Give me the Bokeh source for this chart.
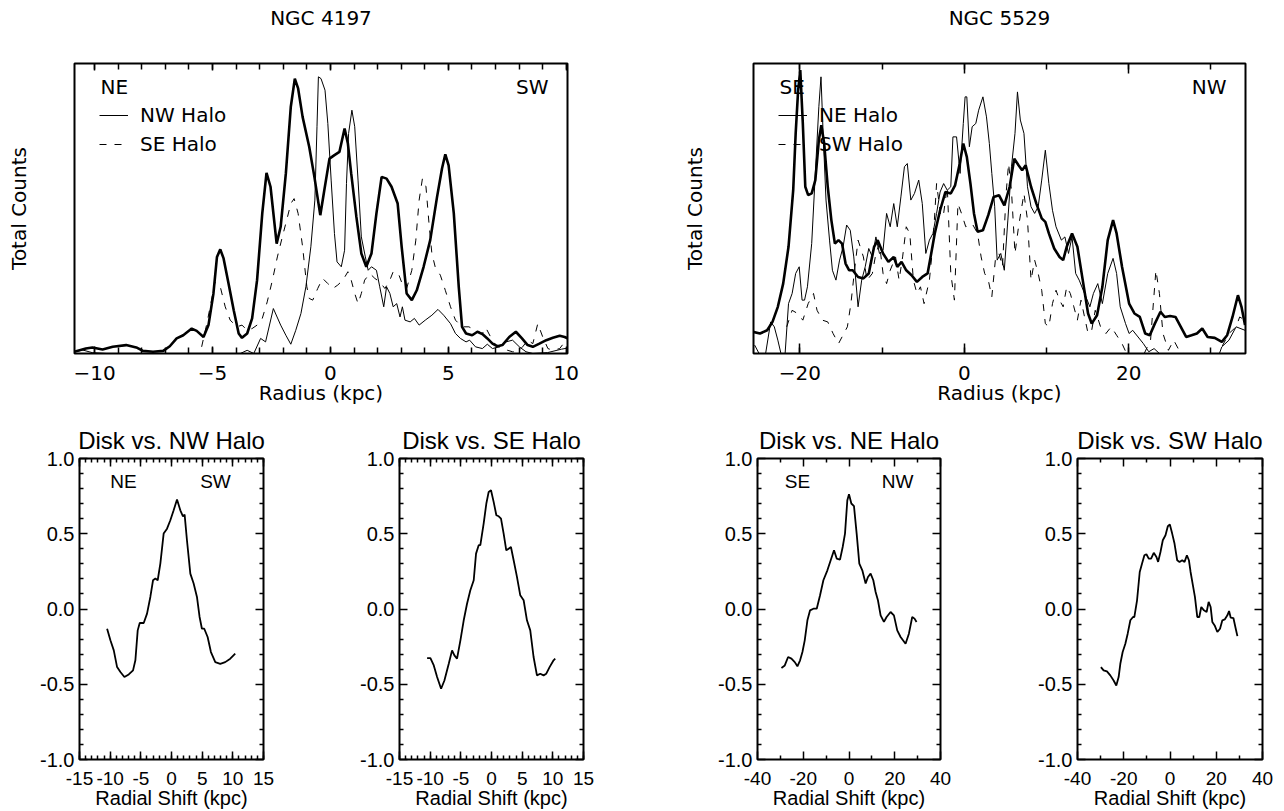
from bokeh.plotting import figure
from bokeh.models import (Range1d, LinearAxis, FixedTicker, Label, Legend, LegendItem,
                          CustomJSTickFormatter, AllLabels)
from bokeh.layouts import row, column
from bokeh.embed import file_html
from bokeh.resources import INLINE

# ---------------- data: NGC 4197 radial profiles (counts, arbitrary units) ----------------
N4197_R_DISK = [-10.87, -10.37, -10.09, -9.66, -9.23, -8.66, -8.23, -7.95, -7.52, -7.09,
                -6.81, -6.52, -6.24, -5.88, -5.67, -5.38, -5.17, -4.96, -4.81, -4.67,
                -4.53, -4.32, -4.10, -3.89, -3.75, -3.53, -3.32, -3.11, -2.89, -2.71,
                -2.54, -2.28, -2.11, -1.89, -1.68, -1.51, -1.37, -1.18, -0.90, -0.68,
                -0.43, -0.26, -0.04, 0.17, 0.38, 0.60, 0.74, 0.88, 1.10, 1.31,
                1.52, 1.74, 1.95, 2.17, 2.38, 2.59, 2.85, 3.02, 3.23, 3.45,
                3.66, 3.95, 4.23, 4.52, 4.73, 4.87, 5.01, 5.23, 5.44, 5.58,
                5.75, 6.01, 6.23, 6.44, 6.65, 6.87, 7.08, 7.29, 7.58, 7.86,
                8.12, 8.36, 8.58, 8.86, 9.15, 9.43, 9.72, 9.93, 10.14]
N4197_C_DISK = [0.6, 1.7, 2.1, 1.4, 2.3, 2.9, 2.1, 0.9, 0.6, 0.9,
                2.5, 5.2, 6.3, 8.6, 7.8, 5.7, 9.8, 20.7, 33.3, 35.9,
                32.8, 24.1, 14.9, 6.9, 5.4, 6.9, 12.1, 25.3, 48.3, 62.3,
                57.5, 37.9, 43.7, 62.1, 85.1, 94.8, 91.4, 81.6, 71.3, 60.9,
                47.7, 56.3, 67.2, 68.4, 69.5, 77.6, 72.4, 62.1, 47.1, 34.5,
                29.9, 34.5, 48.3, 60.9, 60.3, 57.5, 51.7, 36.8, 20.7, 18.4,
                21.8, 29.9, 39.1, 54.0, 63.8, 68.7, 64.9, 48.3, 23.0, 9.2,
                6.9, 6.3, 7.5, 6.7, 5.2, 3.4, 2.5, 2.9, 5.7, 7.5,
                5.2, 2.9, 2.3, 3.4, 4.6, 5.4, 6.1, 5.7, 4.9]

N4197_R_NW = [-10.87, -10.50, -10.10, -9.50, -4.20, -3.82, -3.53, -3.25, -2.96, -2.75,
              -2.42, -2.11, -1.89, -1.68, -1.47, -1.25, -1.04, -0.83, -0.66, -0.57,
              -0.51, -0.40, -0.23, -0.11, 0.03, 0.17, 0.28, 0.46, 0.60, 0.68,
              0.77, 0.91, 1.03, 1.17, 1.31, 1.48, 1.60, 1.74, 1.95, 2.09,
              2.26, 2.38, 2.52, 2.66, 2.81, 2.95, 3.05, 3.16, 3.38, 3.56,
              3.76, 4.02, 4.30, 4.56, 4.80, 5.09, 5.30, 5.51, 5.75, 5.90,
              6.15, 6.44, 6.65, 6.87, 7.15, 7.44, 7.72, 8.01, 8.29, 8.58,
              9.20, 9.80, 10.14]
N4197_C_NW = [0.5, 1.2, 0.3, 0.0, 0.0, 0.0, 1.1, 0.0, 5.2, 4.0,
              15.5, 9.8, 6.3, 3.2, 8.0, 13.8, 23.0, 36.8, 52.9, 78.2,
              95.4, 94.8, 90.8, 79.3, 59.8, 41.4, 31.6, 29.9, 35.6, 58.6,
              75.9, 83.9, 78.2, 59.8, 40.2, 33.3, 28.7, 29.9, 28.7, 23.0,
              16.1, 23.0, 20.7, 16.1, 17.2, 12.6, 16.1, 11.5, 10.9, 12.1,
              9.8, 11.5, 13.2, 15.2, 13.2, 10.3, 6.9, 5.2, 4.0, 4.6,
              2.3, 1.7, 3.2, 1.7, 2.3, 4.0, 4.6, 2.3, 0.6, 0.0,
              0.3, 1.5, 2.0]

N4197_R_SE = [-5.46, -5.24, -4.89, -4.67, -4.46, -4.25, -3.96, -3.75, -3.53, -3.32,
              -3.11, -2.89, -2.68, -2.46, -2.25, -2.04, -1.82, -1.68, -1.54, -1.37,
              -1.18, -1.00, -0.90, -0.75, -0.54, -0.33, -0.11, 0.10, 0.31, 0.53,
              0.74, 0.88, 1.03, 1.17, 1.31, 1.45, 1.67, 1.88, 2.09, 2.31,
              2.52, 2.66, 2.88, 3.09, 3.23, 3.45, 3.62, 3.76, 3.90, 4.05,
              4.19, 4.30, 4.44, 4.66, 4.87, 5.09, 5.30, 5.58, 5.87, 6.15,
              6.44, 6.58, 6.79, 7.01, 7.26, 7.51, 7.72, 7.93, 8.15, 8.36,
              8.58, 8.79, 9.00, 9.22, 9.43, 9.72, 9.93, 10.14]
N4197_C_SE = [2.3, 10.3, 24.7, 23.0, 16.1, 11.5, 9.2, 9.8, 8.0, 8.6,
              9.8, 12.1, 17.8, 25.3, 33.3, 40.2, 47.1, 51.7, 53.4, 48.3,
              36.8, 23.0, 19.0, 18.4, 22.4, 25.9, 24.1, 22.4, 23.6, 25.3,
              28.2, 25.3, 20.7, 17.2, 20.7, 25.3, 27.6, 25.9, 24.7, 22.4,
              25.3, 28.2, 27.6, 23.0, 22.4, 28.7, 39.1, 52.9, 60.3, 57.5,
              43.7, 34.5, 29.9, 27.0, 21.8, 16.1, 11.5, 9.2, 9.2, 8.0,
              6.9, 9.0, 5.7, 2.9, 1.7, 1.1, 0.6, 0.6, 2.3, 4.6,
              3.4, 10.3, 5.7, 1.7, 1.1, 1.7, 4.0, 4.6]

# ---------------- data: NGC 5529 radial profiles ----------------
N5529_R_DISK = [-25.73, -24.86, -23.99, -23.34, -22.69, -22.04, -21.39, -20.82, -20.52, -20.22,
                -19.96, -19.65, -19.35, -19.00, -18.57, -18.13, -17.70, -17.40, -17.05, -16.62,
                -16.18, -15.75, -15.31, -14.88, -14.45, -14.01, -13.58, -12.93, -12.28, -11.63,
                -10.98, -10.54, -9.89, -9.24, -8.59, -8.16, -7.64, -7.07, -6.42, -5.77,
                -5.12, -4.47, -4.03, -3.60, -2.95, -2.30, -1.65, -1.13, -0.56, -0.13,
                0.30, 0.74, 1.17, 1.61, 2.26, 2.91, 3.56, 4.21, 4.86, 5.51,
                6.07, 6.59, 7.03, 7.46, 8.11, 8.76, 9.41, 9.85, 10.28, 10.93,
                11.58, 12.02, 12.45, 13.10, 13.75, 14.40, 15.05, 15.49, 16.14, 16.79,
                17.44, 18.09, 18.52, 19.18, 20.04, 20.69, 21.34, 22.00, 22.56, 23.17,
                23.86, 24.38, 25.03, 25.68, 26.33, 26.98, 27.64, 28.29, 28.94, 29.59,
                30.46, 31.32, 31.97, 32.62, 33.28, 33.71, 34.14]
N5529_C_DISK = [7.5, 6.9, 8.0, 10.9, 16.1, 24.1, 36.8, 56.3, 75.9, 90.8,
                97.7, 79.3, 57.5, 54.6, 55.2, 59.8, 73.6, 78.7, 72.4, 57.5,
                46.0, 37.9, 39.1, 37.9, 31.0, 28.7, 28.7, 26.4, 25.9, 27.6,
                36.8, 39.1, 34.5, 31.6, 33.3, 29.9, 31.6, 28.7, 27.0, 24.7,
                26.4, 27.6, 34.5, 41.4, 49.4, 55.7, 55.2, 58.0, 65.5, 72.4,
                67.8, 58.6, 48.3, 42.0, 42.5, 47.7, 54.0, 54.6, 51.1, 57.5,
                67.2, 64.9, 63.2, 64.9, 57.5, 51.7, 46.6, 45.4, 41.4, 36.2,
                33.3, 32.2, 36.8, 41.4, 36.8, 25.3, 13.8, 10.3, 13.2, 23.0,
                39.1, 46.0, 41.4, 29.9, 17.2, 13.8, 12.6, 6.9, 6.3, 10.3,
                14.4, 12.6, 12.9, 12.6, 9.2, 5.7, 6.3, 6.9, 8.6, 5.7,
                5.4, 4.0, 6.3, 12.6, 20.1, 16.1, 9.8]

N5529_R_NE = [-25.51, -24.86, -24.21, -23.56, -23.12, -22.69, -22.26, -21.82, -21.39, -20.95,
              -20.52, -20.09, -19.74, -19.44, -19.09, -18.57, -18.13, -17.70, -17.44, -17.18,
              -16.83, -16.40, -16.05, -15.62, -15.18, -14.75, -14.32, -13.88, -13.45, -12.93,
              -12.49, -12.06, -11.63, -11.19, -10.76, -10.33, -9.89, -9.46, -9.02, -8.59,
              -8.16, -7.72, -7.29, -6.94, -6.51, -6.07, -5.55, -5.12, -4.69, -4.25,
              -3.82, -3.38, -2.95, -2.52, -2.08, -1.65, -1.39, -0.95, -0.52, -0.13,
              0.09, 0.30, 0.61, 0.95, 1.39, 1.74, 2.26, 2.69, 3.04, 3.34,
              3.69, 3.99, 4.43, 4.86, 5.29, 5.73, 6.16, 6.46, 6.81, 7.25,
              7.68, 8.11, 8.55, 8.98, 9.41, 9.85, 10.28, 10.72, 11.15, 11.80,
              12.23, 12.67, 13.10, 13.54, 13.97, 14.62, 15.27, 15.70, 16.23, 16.79,
              17.44, 18.09, 18.52, 18.96, 19.61, 20.04, 20.48, 21.13, 21.78, 22.43,
              23.08, 23.73, 24.38, 30.89, 31.32, 32.19, 33.06, 34.14]
N5529_C_NE = [2.9, -0.6, -0.6, 10.9, 9.2, 4.6, -0.6, -0.6, 17.2, 20.7,
              27.6, 29.9, 18.4, 18.4, 23.0, 37.9, 62.1, 85.1, 95.4, 75.9,
              52.9, 39.1, 28.7, 25.3, 32.2, 36.8, 44.3, 42.5, 33.3, 16.1,
              25.3, 29.9, 36.2, 33.3, 40.2, 34.5, 35.6, 48.3, 43.7, 51.7,
              43.7, 54.0, 64.4, 65.5, 52.9, 55.2, 59.8, 51.7, 34.5, 39.1,
              41.4, 48.3, 55.7, 58.6, 56.3, 57.5, 74.7, 74.7, 62.1, 79.3,
              88.5, 88.5, 71.3, 78.2, 79.3, 83.9, 88.5, 81.6, 72.4, 62.1,
              50.6, 32.2, 34.5, 28.7, 46.0, 64.4, 75.9, 90.2, 80.5, 75.9,
              57.5, 50.6, 48.3, 50.6, 59.8, 70.1, 58.6, 49.4, 43.7, 39.1,
              40.2, 34.5, 40.2, 27.6, 25.3, 20.7, 16.1, 20.7, 24.1, 17.2,
              27.6, 32.8, 27.6, 16.1, 10.3, 6.9, 8.0, 5.7, 3.4, 0.6,
              1.7, 0.0, -1.1, -1.1, 2.3, 4.6, 9.2, 8.0]

N5529_R_SW = [-21.61, -20.95, -20.30, -19.65, -19.00, -18.35, -17.92, -17.27, -16.62, -15.97,
              -15.31, -14.66, -14.23, -13.80, -13.36, -12.93, -12.28, -11.84, -11.19, -10.76,
              -10.33, -9.89, -9.46, -9.02, -8.37, -7.94, -7.51, -7.07, -6.64, -6.20,
              -5.77, -5.34, -4.90, -4.25, -3.82, -3.38, -2.86, -2.52, -2.08, -1.65,
              -1.21, -0.78, -0.35, 0.17, 0.95, 1.61, 2.04, 2.47, 2.91, 3.34,
              3.77, 4.21, 4.64, 5.08, 5.38, 5.73, 6.16, 6.59, 7.25, 7.68,
              8.11, 8.55, 8.98, 9.41, 9.85, 10.28, 10.72, 11.15, 11.58, 12.02,
              12.45, 12.89, 13.32, 13.75, 14.19, 14.62, 15.05, 15.49, 15.92, 16.57,
              17.22, 17.87, 18.52, 19.18, 19.83, 21.78, 22.65, 23.30, 23.73, 24.16,
              24.82, 25.47, 26.12, 26.98, 30.89, 31.32, 32.19, 33.06, 33.49, 34.14]
N5529_C_SW = [9.2, 14.9, 13.8, 11.5, 17.2, 20.7, 14.9, 11.5, 10.9, 6.9,
              3.4, 6.9, 9.2, 17.2, 28.7, 39.1, 33.3, 25.3, 27.6, 34.5,
              37.9, 27.6, 24.1, 28.7, 33.3, 25.3, 33.3, 43.7, 41.4, 25.3,
              20.7, 23.0, 17.2, 25.3, 37.9, 58.6, 47.1, 48.3, 57.5, 27.6,
              18.4, 51.7, 48.3, 43.7, 44.8, 41.4, 33.3, 27.6, 25.3, 19.5,
              32.2, 34.5, 29.9, 55.2, 65.5, 56.3, 34.5, 43.7, 55.2, 46.0,
              25.3, 32.2, 27.6, 21.8, 10.3, 9.2, 17.2, 21.8, 18.4, 16.1,
              23.0, 20.7, 16.1, 11.5, 18.4, 12.6, 6.9, 8.0, 14.9, 9.2,
              6.9, 9.2, 6.3, 3.4, -0.6, -0.6, 4.6, 28.7, 20.7, 6.9,
              1.1, 4.6, 1.1, -0.6, -0.6, 2.3, 6.9, 9.2, 12.6, 11.5]

# ---------------- data: cross-correlations (radial shift kpc, coefficient) ----------------
CC_NW_SHIFT = [-10.50, -9.96, -9.41, -8.87, -8.33, -7.68, -6.97, -6.27, -5.89, -5.51,
               -5.18, -4.53, -3.99, -3.45, -3.01, -2.63, -2.25, -1.82, -1.28, -0.73,
               -0.19, 0.35, 0.90, 1.44, 1.87, 2.14, 2.52, 3.07, 3.61, 4.15,
               4.58, 4.96, 5.34, 5.89, 6.43, 7.14, 7.95, 8.76, 9.58, 10.39]
CC_NW_COEF = [-0.131, -0.208, -0.275, -0.386, -0.419, -0.452, -0.435, -0.408, -0.341, -0.142,
              -0.093, -0.093, -0.031, 0.080, 0.191, 0.202, 0.191, 0.302, 0.501, 0.534,
              0.590, 0.656, 0.727, 0.656, 0.616, 0.627, 0.457, 0.235, 0.169, 0.080,
              -0.053, -0.131, -0.131, -0.186, -0.286, -0.353, -0.364, -0.353, -0.330, -0.297]

CC_SE_SHIFT = [-10.50, -9.96, -9.41, -8.87, -8.22, -7.68, -6.97, -6.43, -6.05, -5.62,
               -5.07, -4.53, -3.99, -3.45, -2.90, -2.52, -2.09, -1.82, -1.28, -0.84,
               -0.46, -0.08, 0.35, 0.79, 1.17, 1.55, 1.98, 2.41, 2.79, 3.17,
               3.61, 4.15, 4.69, 5.24, 5.78, 6.32, 6.86, 7.41, 7.95, 8.49,
               8.93, 9.47, 10.12, 10.39]
CC_SE_COEF = [-0.326, -0.326, -0.375, -0.452, -0.530, -0.475, -0.364, -0.275, -0.308, -0.330,
              -0.208, -0.075, 0.035, 0.124, 0.191, 0.368, 0.424, 0.424, 0.568, 0.701,
              0.778, 0.789, 0.712, 0.623, 0.616, 0.601, 0.501, 0.390, 0.401, 0.412,
              0.324, 0.213, 0.091, 0.058, -0.075, -0.142, -0.319, -0.441, -0.430, -0.441,
              -0.430, -0.386, -0.341, -0.330]

CC_NE_SHIFT = [-29.53, -28.07, -26.62, -25.16, -23.71, -22.55, -21.38, -20.36, -19.35, -18.18,
               -17.02, -15.56, -14.11, -12.65, -11.20, -9.45, -8.00, -6.55, -5.38, -3.93,
               -2.76, -1.75, -0.73, 0.00, 1.02, 2.18, 3.35, 4.51, 5.82, 7.27,
               8.29, 9.45, 10.62, 11.64, 12.65, 13.82, 15.27, 16.44, 18.18, 19.64,
               21.09, 22.55, 24.73, 26.18, 27.64, 28.65, 29.53]
CC_NE_COEF = [-0.392, -0.375, -0.319, -0.330, -0.353, -0.381, -0.341, -0.286, -0.208, -0.075,
              -0.009, 0.002, 0.002, 0.091, 0.191, 0.257, 0.324, 0.390, 0.335, 0.328,
              0.412, 0.501, 0.723, 0.763, 0.701, 0.683, 0.501, 0.302, 0.257, 0.169,
              0.213, 0.235, 0.191, 0.113, 0.058, -0.042, -0.086, -0.053, -0.020, -0.042,
              -0.142, -0.186, -0.231, -0.164, -0.053, -0.064, -0.086]

CC_SW_SHIFT = [-29.87, -28.72, -27.27, -25.82, -24.38, -23.22, -22.21, -21.48, -20.47, -19.31,
               -18.30, -17.14, -15.99, -15.41, -14.25, -13.09, -12.08, -11.07, -10.20, -9.19,
               -8.17, -7.02, -5.86, -5.14, -4.12, -3.11, -1.95, -0.94, -0.07, 0.94,
               1.95, 3.11, 4.12, 5.28, 6.29, 7.31, 8.17, 8.90, 9.91, 10.78,
               11.79, 12.66, 13.53, 14.68, 15.84, 16.71, 17.58, 18.30, 19.31, 20.47,
               21.63, 22.64, 23.66, 24.81, 25.54, 26.26, 27.42, 28.43, 29.15]
CC_SW_COEF = [-0.386, -0.408, -0.415, -0.441, -0.475, -0.508, -0.452, -0.364, -0.286, -0.231,
              -0.164, -0.075, -0.053, -0.053, 0.058, 0.246, 0.302, 0.357, 0.364, 0.335,
              0.335, 0.373, 0.346, 0.313, 0.379, 0.457, 0.490, 0.550, 0.561, 0.501,
              0.435, 0.324, 0.313, 0.324, 0.313, 0.357, 0.324, 0.246, 0.157, 0.080,
              -0.053, -0.053, 0.013, -0.009, -0.020, 0.047, 0.013, -0.086, -0.109, -0.153,
              -0.131, -0.075, -0.069, -0.042, -0.013, -0.058, -0.060, -0.131, -0.180]

# tick definitions
N4197_MAJOR = [-10, -5, 0, 5, 10]
N4197_MINOR = list(range(-10, 11))
N5529_MAJOR = [-20, 0, 20]
N5529_MINOR = [-20, -10, 0, 10, 20, 30]
CC_Y_MAJOR = [-1.0, -0.5, 0.0, 0.5, 1.0]
CC_Y_MINOR = [-0.9, -0.8, -0.7, -0.6, -0.4, -0.3, -0.2, -0.1, 0.1, 0.2, 0.3, 0.4,
              0.6, 0.7, 0.8, 0.9]
CC_X15_MAJOR = [-15, -10, -5, 0, 5, 10, 15]
CC_X15_MINOR = list(range(-15, 16))
CC_X40_MAJOR = [-40, -20, 0, 20, 40]
CC_X40_MINOR = [-30, -10, 10, 30]

HF = "DejaVu Sans"       # stand-in for the IDL vector font
AF = "Liberation Sans"   # Helvetica-like

HEAD_H = 40
TOP_FH = 290
CC_FH = 301


def style_axis(ax, font, size, maj_in, min_in):
    ax.axis_line_color = None
    ax.major_tick_in = maj_in
    ax.major_tick_out = 0
    ax.minor_tick_in = min_in
    ax.minor_tick_out = 0
    ax.major_tick_line_color = "black"
    ax.minor_tick_line_color = "black"
    ax.major_tick_line_width = 1.5
    ax.minor_tick_line_width = 1.5
    ax.major_label_text_font = font
    ax.major_label_text_font_size = size
    ax.major_label_text_color = "black"
    ax.axis_label_text_font = font
    ax.axis_label_text_color = "black"
    ax.axis_label_text_font_style = "normal"
    ax.major_label_policy = AllLabels()


def blank_axis(ax):
    ax.formatter = CustomJSTickFormatter(code="return '';")
    ax.major_label_text_font_size = "0px"
    ax.major_label_standoff = 0


def make_fig(fw, fh, left, right, top, bottom, xr, yr):
    p = figure(frame_width=fw, frame_height=fh, min_border_left=left, min_border_right=right,
               min_border_top=top, min_border_bottom=bottom,
               x_range=Range1d(*xr), y_range=Range1d(*yr),
               x_axis_location=None, y_axis_location=None,
               output_backend="svg", toolbar_location=None)
    p.background_fill_color = "white"
    p.border_fill_color = "white"
    p.outline_line_color = "black"
    p.outline_line_width = 2
    return p


def header(title, fw, left, right):
    # strip above a panel holding its galaxy name, centred on the panel frame
    h = figure(frame_width=fw, frame_height=HEAD_H, min_border_left=left, min_border_right=right,
               min_border_top=0, min_border_bottom=0, x_range=Range1d(0, 1), y_range=Range1d(0, 1),
               x_axis_location=None, y_axis_location=None,
               output_backend="svg", toolbar_location=None)
    h.outline_line_color = None
    h.background_fill_color = "white"
    h.border_fill_color = "white"
    h.xgrid.visible = False
    h.ygrid.visible = False
    h.add_layout(Label(x=fw / 2, y=HEAD_H - 17, x_units="screen", y_units="screen", text=title,
                       text_align="center", text_baseline="middle", text_font=HF,
                       text_font_size="20px", text_color="black"))
    return h


def top_panel(xr, fw, left, right, majors, minors, maj_len, min_len, dirs, leg_labels,
              disk, halo_a, halo_b, ylab_standoff):
    p = make_fig(fw, TOP_FH, left, right, 63 - HEAD_H, 54, xr, (0, 100))

    fmt = CustomJSTickFormatter(code="return tick < 0 ? '\u2212' + Math.abs(tick) : '' + tick;")
    xb = LinearAxis(ticker=FixedTicker(ticks=majors, minor_ticks=minors), formatter=fmt,
                    axis_label="Radius (kpc)")
    style_axis(xb, HF, "20px", maj_len, min_len)
    xb.major_label_standoff = 12
    xb.axis_label_standoff = -2
    xb.axis_label_text_font_size = "20px"
    p.add_layout(xb, "below")

    xt = LinearAxis(ticker=FixedTicker(ticks=majors, minor_ticks=minors))
    style_axis(xt, HF, "20px", maj_len, min_len)
    blank_axis(xt)
    p.add_layout(xt, "above")

    yl = LinearAxis(ticker=FixedTicker(ticks=[]), axis_label="Total Counts")
    style_axis(yl, HF, "20px", 0, 0)
    blank_axis(yl)
    yl.axis_label_text_font_size = "20px"
    yl.axis_label_standoff = ylab_standoff
    p.add_layout(yl, "left")

    p.line(disk[0], disk[1], line_color="black", line_width=2.6)
    ra = p.line(halo_a[0], halo_a[1], line_color="black", line_width=1)
    rb = p.line(halo_b[0], halo_b[1], line_color="black", line_width=1, line_dash="7 8")

    p.add_layout(Label(x=26, y=TOP_FH - 23, x_units="screen", y_units="screen", text=dirs[0],
                       text_baseline="middle", text_font=HF, text_font_size="20px",
                       text_color="black"))
    p.add_layout(Label(x=fw - 19, y=TOP_FH - 23, x_units="screen", y_units="screen", text=dirs[1],
                       text_baseline="middle", text_align="right", text_font=HF,
                       text_font_size="20px", text_color="black"))

    leg = Legend(items=[LegendItem(label=leg_labels[0], renderers=[ra]),
                        LegendItem(label=leg_labels[1], renderers=[rb])],
                 location=(25, 197))
    leg.border_line_color = None
    leg.background_fill_alpha = 0
    leg.padding = 0
    leg.margin = 0
    leg.spacing = 5
    leg.glyph_width = 29
    leg.glyph_height = 20
    leg.label_height = 20
    leg.label_standoff = 12
    leg.label_text_font = HF
    leg.label_text_font_size = "20px"
    leg.label_text_color = "black"
    p.add_layout(leg)
    p.xgrid.visible = False
    p.ygrid.visible = False
    return p


def cc_panel(title, xr, majors, minors, fw, left, right, shift, coef, dirs=None):
    p = make_fig(fw, CC_FH, left, right, 51, 52, xr, (-1, 1))
    p.title.text = title
    p.title.align = "center"
    p.title.text_font = AF
    p.title.text_font_size = "24px"
    p.title.text_font_style = "normal"
    p.title.text_color = "black"
    p.title.standoff = 9

    xb = LinearAxis(ticker=FixedTicker(ticks=majors, minor_ticks=minors),
                    formatter=CustomJSTickFormatter(code="return tick.toFixed(0);"),
                    axis_label="Radial Shift (kpc)")
    style_axis(xb, AF, "19px", 8, 4)
    xb.major_label_standoff = 12
    xb.axis_label_standoff = -1
    xb.axis_label_text_font_size = "20px"
    p.add_layout(xb, "below")

    xt = LinearAxis(ticker=FixedTicker(ticks=majors, minor_ticks=minors))
    style_axis(xt, AF, "19px", 8, 4)
    blank_axis(xt)
    p.add_layout(xt, "above")

    yl = LinearAxis(ticker=FixedTicker(ticks=CC_Y_MAJOR, minor_ticks=CC_Y_MINOR),
                    formatter=CustomJSTickFormatter(code="return tick.toFixed(1);"))
    style_axis(yl, AF, "20px", 8, 4)
    yl.major_label_standoff = 5
    p.add_layout(yl, "left")

    yr = LinearAxis(ticker=FixedTicker(ticks=CC_Y_MAJOR, minor_ticks=CC_Y_MINOR))
    style_axis(yr, AF, "19px", 8, 4)
    blank_axis(yr)
    p.add_layout(yr, "right")

    p.line(shift, coef, line_color="black", line_width=1.8)

    if dirs:
        for (txt, xpos) in dirs:
            p.add_layout(Label(x=xpos, y=CC_FH - 23, x_units="screen", y_units="screen", text=txt,
                               text_align="center", text_baseline="middle", text_font=AF,
                               text_font_size="19px", text_color="black"))
    p.xgrid.visible = False
    p.ygrid.visible = False
    return p


hA = header("NGC 4197", 493, 74, 73)
hB = header("NGC 5529", 492, 113, 39)
pA = top_panel((-10.85, 10.05), 493, 74, 73, N4197_MAJOR, N4197_MINOR, 7, 6,
               ("NE", "SW"), ("NW Halo", "SE Halo"),
               (N4197_R_DISK, N4197_C_DISK), (N4197_R_NW, N4197_C_NW), (N4197_R_SE, N4197_C_SE), 44)
pB = top_panel((-25.65, 34.2), 492, 113, 39, N5529_MAJOR, N5529_MINOR, 10, 6,
               ("SE", "NW"), ("NE Halo", "SW Halo"),
               (N5529_R_DISK, N5529_C_DISK), (N5529_R_NE, N5529_C_NE), (N5529_R_SW, N5529_C_SW), 47)

p1 = cc_panel("Disk vs. NW Halo", (-15, 15), CC_X15_MAJOR, CC_X15_MINOR, 184, 79, 57,
              CC_NW_SHIFT, CC_NW_COEF, dirs=[("NE", 44), ("SW", 136)])
p2 = cc_panel("Disk vs. SE Halo", (-15, 15), CC_X15_MAJOR, CC_X15_MINOR, 184, 79, 77,
              CC_SE_SHIFT, CC_SE_COEF)
p3 = cc_panel("Disk vs. NE Halo", (-40, 40), CC_X40_MAJOR, CC_X40_MINOR, 183, 97, 50,
              CC_NE_SHIFT, CC_NE_COEF, dirs=[("SE", 40), ("NW", 140)])
p4 = cc_panel("Disk vs. SW Halo", (-40, 40), CC_X40_MAJOR, CC_X40_MINOR, 185, 87, 22,
              CC_SW_SHIFT, CC_SW_COEF)

layout = column(row(hA, hB), row(pA, pB), row(p1, p2, p3, p4))

open("out.html", "w").write(file_html(layout, INLINE, title="NGC 4197 / NGC 5529 profiles"))
